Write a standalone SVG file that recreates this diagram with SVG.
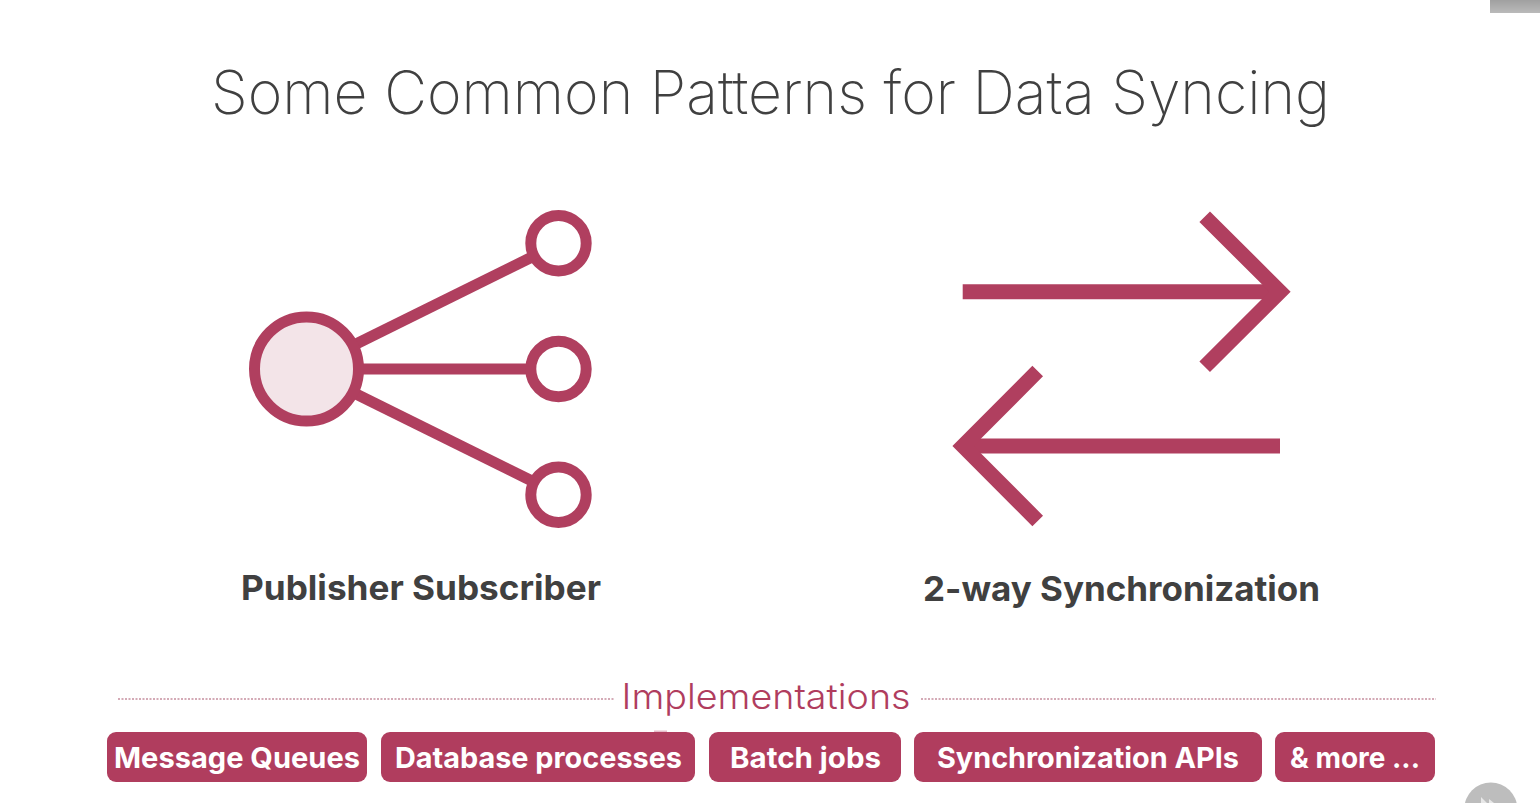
<svg xmlns="http://www.w3.org/2000/svg" width="1540" height="803" viewBox="0 0 1540 803">
<defs>
<linearGradient id="g" x1="0" y1="0" x2="0" y2="1"><stop offset="0" stop-color="#a0a0a0"/><stop offset="1" stop-color="#bababa"/></linearGradient>
</defs>
<style>
.s{fill:none;stroke:#b03f5f;}
.t{font-family:"Inter","Lato","Noto Sans",sans-serif;font-variant-ligatures:none;}
.lab{font-size:34.5px;font-weight:700;fill:#404040;text-anchor:middle;}
.pill{fill:#b03d5e;}
.pt{font-size:29px;font-weight:700;fill:#fff;text-anchor:middle;}
.dot{stroke:#d4aab6;stroke-width:2;stroke-dasharray:2 1.5;fill:none;}
</style>
<rect width="1540" height="803" fill="#fff"/>
<rect x="1490" y="0" width="50" height="13" fill="url(#g)"/>
<text class="t" x="770.5" y="114" font-size="60" font-weight="250" fill="#404040" text-anchor="middle" textLength="1119" lengthAdjust="spacingAndGlyphs">Some Common Patterns for Data Syncing</text>
<g id="connectors">
<line class="s" stroke-width="11" x1="352" y1="346" x2="534" y2="256"/>
<line class="s" stroke-width="11" x1="360" y1="369" x2="530" y2="369"/>
<line class="s" stroke-width="11" x1="352" y1="392" x2="534" y2="482"/>
</g>
<g id="publisher"><circle cx="306.5" cy="369" r="52" fill="#f3e4e8" stroke="#b03f5f" stroke-width="11"/></g>
<g id="sub1"><circle cx="558.5" cy="243.3" r="27.7" fill="#fff" stroke="#b03f5f" stroke-width="11"/></g>
<g id="sub2"><circle cx="558.5" cy="369" r="27.7" fill="#fff" stroke="#b03f5f" stroke-width="11"/></g>
<g id="sub3"><circle cx="558.5" cy="494.7" r="27.7" fill="#fff" stroke="#b03f5f" stroke-width="11"/></g>
<g id="arrow-right">
<line class="s" stroke-width="15" x1="962.7" y1="291.7" x2="1278" y2="291.7"/>
<polyline class="s" stroke-width="15" points="1204.7,216.7 1280,291.7 1204.7,366.7"/>
</g>
<g id="arrow-left">
<line class="s" stroke-width="15" x1="1280" y1="446" x2="965" y2="446"/>
<polyline class="s" stroke-width="15" points="1037.7,371 963,446 1037.7,521"/>
</g>
<text class="t lab" x="421" y="600" textLength="360" lengthAdjust="spacingAndGlyphs">Publisher Subscriber</text>
<text class="t lab" x="1121.5" y="600.5" textLength="397" lengthAdjust="spacingAndGlyphs">2-way Synchronization</text>
<g id="implementations">
<line class="dot" x1="118" y1="699" x2="615" y2="699"/>
<line class="dot" x1="921" y1="699" x2="1436" y2="699"/>
<text class="t" x="766" y="709" font-size="35" font-weight="340" fill="#b03d5e" text-anchor="middle" textLength="289" lengthAdjust="spacingAndGlyphs">Implementations</text>
</g>
<g id="pill1"><rect class="pill" x="107" y="732" width="260" height="50" rx="9"/><text class="t pt" x="237" y="767.5" textLength="246" lengthAdjust="spacingAndGlyphs">Message Queues</text></g>
<g id="pill2"><rect x="654" y="730.5" width="13" height="2" fill="#e6bcc9"/><rect class="pill" x="381" y="732" width="314" height="50" rx="9"/><text class="t pt" x="538.5" y="767.5" textLength="287" lengthAdjust="spacingAndGlyphs">Database processes</text></g>
<g id="pill3"><rect class="pill" x="709" y="732" width="192" height="50" rx="9"/><text class="t pt" x="805.5" y="767.5" textLength="151" lengthAdjust="spacingAndGlyphs">Batch jobs</text></g>
<g id="pill4"><rect class="pill" x="914" y="732" width="348" height="50" rx="9"/><text class="t pt" x="1088" y="767.5" textLength="302" lengthAdjust="spacingAndGlyphs">Synchronization APIs</text></g>
<g id="pill5"><rect class="pill" x="1275" y="732" width="160" height="50" rx="9"/><text class="t pt" x="1355" y="767.5" textLength="130" lengthAdjust="spacingAndGlyphs">&amp; more ...</text></g>
<circle cx="1490.8" cy="809" r="26.5" fill="#bdbdbd"/>
<path d="M1481 803V797L1487 803M1489 803V799L1494 803Z" fill="#e8e8e8"/>
</svg>
